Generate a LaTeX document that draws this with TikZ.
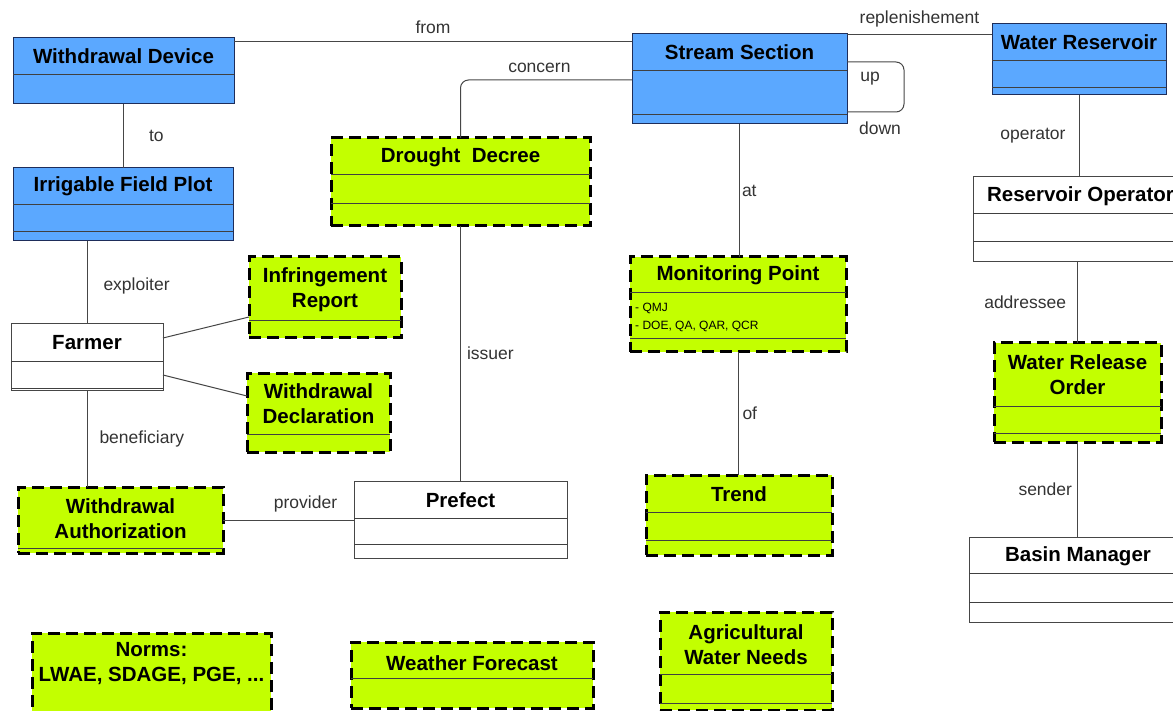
\documentclass[tikz,border=0pt]{standalone}
\usepackage{fontspec}
\setmainfont{Liberation Sans}
\usetikzlibrary{positioning}

\definecolor{classblue}{RGB}{91,168,255}
\definecolor{classgreen}{RGB}{195,255,0}
\definecolor{edgegray}{RGB}{70,70,70}
\definecolor{navy}{RGB}{30,45,90}

\newcommand{\umlclass}[8]{%
\node[#2, minimum width=#4pt, minimum height=#5pt, anchor=north west] (#1) at (#3) {};
\foreach \off in {#6}
  \draw[divider] ([yshift=-\off pt]#1.north west) -- ([yshift=-\off pt]#1.north east);
\node[title] (#1-t) at ([yshift=-#7pt]#1.north) {#8};
}

\begin{document}
\begin{tikzpicture}[x=1pt,y=-1pt,
  bluebox/.style={draw=navy, fill=classblue, line width=1pt, inner sep=0pt, outer sep=0pt},
  whitebox/.style={draw=edgegray, fill=white, line width=1pt, inner sep=0pt, outer sep=0pt},
  greenbox/.style={draw=black, fill=classgreen, line width=3pt, dash pattern=on 12pt off 6pt, inner sep=0pt, outer sep=0pt},
  divider/.style={draw=black!75, line width=0.9pt},
  title/.style={font=\fontsize{20.5}{25}\selectfont\bfseries, align=center, inner sep=0pt},
  lbl/.style={font=\fontsize{17.5}{20}\selectfont, text=black!80, inner sep=0pt},
  attr/.style={font=\fontsize{12}{18}\selectfont, align=left, inner sep=0pt},
  assoc/.style={draw=edgegray, line width=1pt}]

\useasboundingbox (0,0) rectangle (1173,711);
\clip (0,0) rectangle (1173,711);

\umlclass{wdev}{bluebox}{13,38}{221}{66}{36}{18}{Withdrawal Device}
\umlclass{plot}{bluebox}{13,168}{220}{73}{36,63}{18}{Irrigable Field Plot}
\umlclass{stream}{bluebox}{632,34}{215}{90}{36,80}{18}{Stream Section}
\umlclass{reservoir}{bluebox}{992,24}{174}{71}{36,63}{18}{Water Reservoir}

\umlclass{operator}{whitebox}{973,177}{215}{85}{36,64}{19}{Reservoir Operator}
\umlclass{basin}{whitebox}{969,537}{218}{85}{36,65}{19}{Basin Manager}
\umlclass{farmer}{whitebox}{11,324}{152}{66}{37,64}{19}{Farmer}
\umlclass{prefect}{whitebox}{354,481}{213}{77}{37,63}{19}{Prefect}

\umlclass{release}{greenbox}{994,343}{167}{99}{63,90}{32}{Water Release\\Order}
\umlclass{decree}{greenbox}{331,138}{259}{88}{36,65}{19}{Drought\ \ Decree}
\umlclass{mpoint}{greenbox}{630,257}{216}{95}{35,81}{18}{Monitoring Point}
\umlclass{trend}{greenbox}{646,475}{186}{80}{37,65}{19}{Trend}
\umlclass{infr}{greenbox}{249,257}{152}{81}{63}{33}{Infringement\\Report}
\umlclass{decl}{greenbox}{247,373}{143}{79}{61}{31}{Withdrawal\\Declaration}
\umlclass{auth}{greenbox}{18,487}{205}{66}{61}{32}{Withdrawal\\Authorization}
\umlclass{norms}{greenbox}{32,633}{239}{90}{100}{31}{Norms:\\LWAE, SDAGE, PGE, ...}
\umlclass{weather}{greenbox}{351,642}{242}{66}{36}{21}{Weather Forecast}
\umlclass{needs}{greenbox}{660,612}{172}{98}{62,91}{33}{Agricultural\\Water Needs}

\node[attr, anchor=west] (mpoint-a) at ([xshift=5pt,yshift=-60pt]mpoint.north west) {- QMJ\\- DOE, QA, QAR, QCR};

\coordinate (from-s) at ([yshift=-8pt]stream.north west);
\coordinate (concern-s) at ([yshift=-46pt]stream.north west);
\coordinate (repl-r) at ([yshift=-11pt]reservoir.north west);

\draw[assoc] (from-s) -- node[lbl, midway, above=8pt] {from} (from-s -| wdev.east);
\draw[assoc, rounded corners=8pt] (concern-s) -| node[lbl, pos=0.27, above=7pt] {concern} (decree.north);
\draw[assoc] (repl-r) -- node[lbl, midway, above=7pt] {replenishement} (repl-r -| stream.east);
\draw[assoc, rounded corners=8pt] ([yshift=-28pt]stream.north east) -- ++(57,0) |- ([yshift=-78pt]stream.north east);
\node[lbl] (up-l) at ([xshift=23pt,yshift=-45pt]stream.north east) {up};
\node[lbl] (down-l) at ([xshift=33pt,yshift=-94pt]stream.north east) {down};

\draw[assoc] (wdev.south) -- node[lbl, midway, right=25pt] {to} (wdev.south |- plot.north);
\draw[assoc] (farmer.north) -- node[lbl, midway, right=16pt, yshift=-3pt] {exploiter} (farmer.north |- plot.south);
\draw[assoc] (farmer.south) -- node[lbl, midway, right=12pt] {beneficiary} (farmer.south |- auth.north);
\draw[assoc] ([yshift=-14pt]farmer.north east) -- ([yshift=-60pt]infr.north west);
\draw[assoc] ([yshift=-51pt]farmer.north east) -- ([yshift=-23pt]decl.north west);
\draw[assoc] (auth.east) -- node[lbl, pos=0.63, above=7pt] {provider} (auth.east -| prefect.west);
\draw[assoc] (decree.south) -- node[lbl, midway, right=6pt] {issuer} (prefect.north);

\draw[assoc] (stream.south) -- node[lbl, midway, right=2pt] {at} (stream.south |- mpoint.north);
\draw[assoc] (mpoint.south) -- node[lbl, midway, right=4pt] {of} (mpoint.south |- trend.north);

\draw[assoc] (reservoir.south) -- node[lbl, midway, left=13pt] {operator} (reservoir.south |- operator.north);
\draw[assoc] (release.north) -- node[lbl, midway, left=11pt] {addressee} (release.north |- operator.south);
\draw[assoc] (release.south) -- node[lbl, midway, left=5pt] {sender} (release.south |- basin.north);

\end{tikzpicture}
\end{document}
